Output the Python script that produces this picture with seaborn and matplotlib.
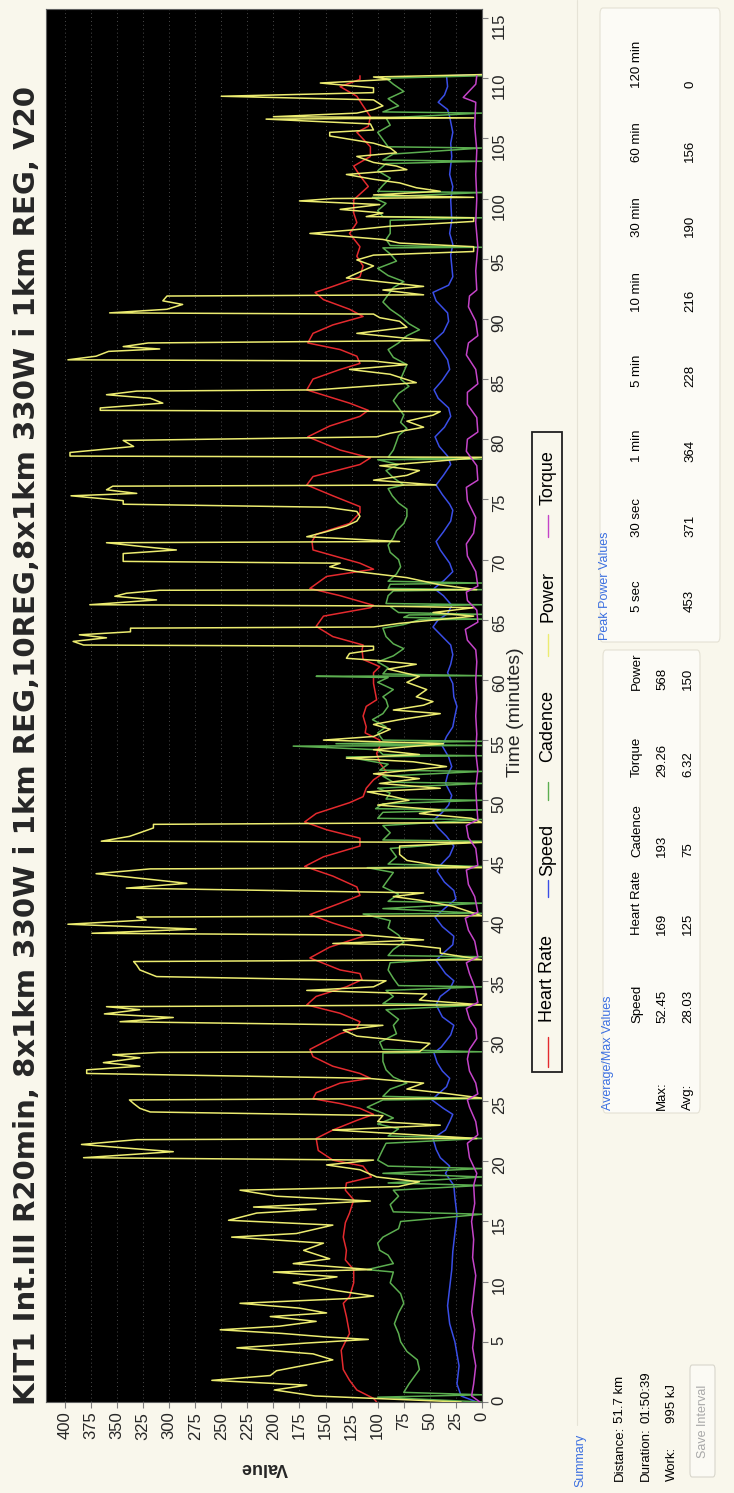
import pandas as pd
import matplotlib
matplotlib.use('Agg')
import matplotlib.pyplot as plt
from matplotlib.patches import Rectangle, FancyBboxPatch
from matplotlib.lines import Line2D
import seaborn as sns

W, H = 734, 1493

# (minutes, value)
power = [(0.0, 20), (0.3, 104), (0.5, 160), (1.0, 199), (1.4, 168), (1.8, 259), (2.2, 203), (2.6, 197),
         (3.5, 143), (4.0, 162), (4.5, 235), (4.9, 168), (5.2, 109), (5.4, 149), (5.7, 192), (6.0, 251),
         (6.3, 194), (6.7, 159), (7.1, 203), (7.4, 149), (7.8, 175), (8.2, 232), (8.6, 127), (8.8, 104),
         (9.3, 143), (9.9, 181), (10.4, 139), (10.8, 200), (11.0, 106), (11.5, 181), (11.9, 146), (12.6, 171),
         (13.2, 152), (13.7, 240), (14.0, 178), (14.7, 143), (15.1, 243), (15.7, 216), (16.0, 159), (16.2, 219),
         (16.7, 107), (17.1, 197), (17.6, 232), (17.9, 80), (18.3, 60), (18.7, 101), (19.3, 117), (19.7, 149),
         (20.1, 104), (20.3, 382), (20.8, 296), (21.1, 341), (21.4, 384), (21.8, 331), (21.9, 5), (22.6, 143),
         (23.0, 40), (23.3, 100), (23.8, 95), (24.1, 318), (24.4, 328), (24.8, 334), (25.1, 338), (25.25, 0),
         (25.7, 40), (26.0, 72), (26.5, 56), (26.9, 110), (27.3, 379), (27.6, 379), (27.9, 328), (28.2, 363),
         (28.6, 328), (28.85, 354), (29.05, 310), (29.1, 60), (29.8, 50), (30.4, 120), (30.9, 133), (31.3, 95),
         (31.6, 347), (31.95, 296), (32.25, 362), (32.6, 328), (32.85, 360), (33.0, 0), (33.4, 60), (33.9, 53),
         (34.2, 168), (34.5, 104), (35.0, 92), (35.35, 312), (35.9, 328), (36.3, 331), (36.6, 334), (36.75, 0),
         (37.3, 40), (37.7, 40), (38.0, 72), (38.1, 143), (38.4, 56), (38.8, 111), (38.95, 374), (39.3, 274),
         (39.7, 397), (40.05, 322), (40.3, 331), (40.4, 0), (41.2, 28), (41.7, 60), (42.0, 85), (42.3, 56),
         (42.7, 341), (43.1, 283), (43.4, 315), (43.9, 370), (44.3, 318), (44.4, 0), (44.6, 44), (45.0, 72),
         (45.5, 79), (46.2, 79), (46.5, 0), (46.6, 365), (47.0, 338), (47.3, 328), (47.7, 315), (48.0, 315),
         (48.15, 0), (48.5, 10), (48.9, 60), (49.2, 40), (49.6, 100), (50.0, 70), (50.3, 85), (50.7, 110),
         (51.0, 40), (51.4, 98), (51.8, 60), (52.2, 104), (52.8, 34), (53.2, 66), (53.5, 130), (53.8, 60),
         (54.2, 104), (54.7, 37), (55.0, 152), (55.3, 104), (55.9, 88), (56.3, 104), (56.7, 79), (57.2, 40),
         (57.5, 85), (57.9, 56), (58.2, 47), (58.6, 63), (59.2, 53), (59.8, 72), (60.3, 60), (60.9, 90),
         (61.3, 63), (61.6, 98), (61.8, 130), (62.2, 127), (62.5, 104), (62.8, 104), (62.9, 382), (63.2, 392),
         (63.5, 360), (63.75, 386), (64.0, 337), (64.3, 337), (64.4, 104), (64.7, 79), (65.3, 8), (65.6, 47),
         (66.0, 8), (66.15, 104), (66.25, 376), (66.65, 312), (66.95, 352), (67.2, 341), (67.45, 309), (67.5, 5),
         (67.9, 40), (68.5, 72), (69.0, 120), (69.4, 146), (69.7, 136), (69.85, 344), (70.2, 344), (70.5, 344),
         (70.8, 293), (71.1, 328), (71.4, 360), (71.5, 79), (71.9, 168), (72.3, 150), (72.8, 130), (73.2, 120),
         (73.6, 117), (74.0, 120), (74.35, 149), (74.6, 344), (74.9, 344), (75.3, 394), (75.5, 331), (75.8, 360),
         (76.1, 354), (76.2, 44), (76.6, 104), (77.0, 72), (77.4, 60), (77.8, 98), (78.2, 40), (78.5, 0),
         (78.6, 395), (78.9, 395), (79.4, 334), (79.9, 344), (80.2, 101), (80.5, 88), (81.0, 56), (81.5, 72),
         (82.0, 47), (82.3, 40), (82.4, 366), (82.6, 366), (83.0, 306), (83.4, 318), (83.7, 360), (84.0, 331),
         (84.1, 159), (84.7, 63), (85.4, 88), (85.8, 127), (86.2, 72), (86.5, 104), (86.6, 397), (86.9, 370),
         (87.3, 358), (87.5, 309), (87.7, 344), (88.0, 320), (88.2, 50), (88.8, 120), (89.3, 72), (89.8, 79),
         (90.1, 98), (90.4, 104), (90.5, 357), (90.8, 302), (91.2, 287), (91.5, 306), (91.9, 302), (92.0, 56),
         (92.4, 95), (92.7, 56), (93.4, 130), (94.4, 104), (94.9, 120), (95.3, 104), (95.6, 8), (96.0, 8),
         (96.3, 79), (96.6, 95), (97.1, 165), (97.4, 123), (97.7, 88), (98.1, 8), (98.4, 8), (98.5, 111),
         (98.8, 95), (99.1, 136), (99.5, 98), (99.8, 175), (100.0, 143), (100.1, 8), (100.3, 104), (100.6, 40),
         (100.9, 63), (101.3, 79), (101.6, 104), (102.0, 130), (102.4, 72), (102.7, 82), (103.0, 104), (103.5, 120),
         (103.8, 82), (104.2, 88), (104.6, 104), (105.2, 146), (105.5, 146), (105.7, 104), (106.2, 107), (106.6, 207),
         (106.7, 8), (106.8, 200), (107.1, 120), (107.4, 104), (107.7, 95), (108.2, 104), (108.5, 250), (108.8, 104),
         (109.2, 104), (109.6, 155), (109.9, 88), (110.1, 104), (110.3, 0)]

heart_rate = [(0.0, 101), (0.3, 104), (1.0, 120), (1.8, 127), (2.7, 133), (4.3, 135), (5.7, 127), (7.1, 130),
              (8.2, 133), (8.75, 127), (9.9, 123), (11.0, 123), (11.8, 131), (12.6, 130), (13.7, 133), (14.9, 131),
              (15.7, 127), (16.8, 123), (17.6, 131), (18.2, 130), (18.7, 106), (19.6, 114), (20.1, 143), (20.9, 157),
              (21.9, 159), (22.6, 143), (23.4, 120), (23.9, 104), (24.4, 117), (24.8, 136), (25.2, 162), (25.7, 159),
              (26.5, 136), (26.9, 107), (27.3, 117), (27.9, 143), (28.7, 162), (29.3, 165), (30.6, 136), (31.05, 120),
              (31.6, 117), (32.3, 136), (33.0, 168), (33.7, 159), (34.5, 130), (35.1, 115), (35.6, 117), (35.9, 136),
              (36.9, 165), (37.8, 146), (38.7, 114), (39.1, 117), (39.8, 143), (40.5, 165), (41.45, 136), (42.1, 117),
              (42.8, 120), (43.7, 143), (44.5, 170), (45.3, 152), (46.2, 117), (46.85, 117), (47.55, 149), (48.2, 170),
              (48.9, 159), (49.8, 127), (50.3, 114), (51.0, 111), (51.7, 104), (52.4, 92), (53.1, 98), (53.9, 101),
              (54.5, 98), (55.0, 98), (55.6, 112), (56.1, 111), (57.0, 114), (57.8, 111), (58.35, 101), (59.7, 104),
              (60.6, 104), (61.1, 98), (61.7, 114), (62.5, 115), (62.9, 114), (63.6, 143), (64.45, 159), (65.3, 152),
              (66.0, 107), (66.2, 104), (67.0, 136), (67.6, 165), (68.6, 149), (69.2, 104), (69.7, 117), (70.8, 162),
              (71.5, 163), (72.1, 159), (73.0, 127), (73.9, 117), (74.4, 117), (75.3, 143), (76.2, 168), (76.9, 162),
              (77.9, 117), (78.45, 107), (79.1, 136), (80.2, 167), (81.1, 146), (81.9, 117), (82.4, 109), (83.0, 127),
              (84.1, 168), (85.0, 162), (85.8, 136), (86.3, 117), (86.9, 120), (87.45, 136), (88.0, 167), (88.8, 162),
              (89.5, 143), (90.2, 114), (90.8, 127), (91.6, 152), (92.2, 160), (92.7, 143), (93.5, 117), (94.4, 114),
              (95.2, 120), (96.0, 117), (97.1, 127), (98.0, 120), (98.8, 123), (99.9, 123), (101.0, 109), (101.9, 117),
              (102.7, 123), (103.5, 107), (104.3, 107), (105.5, 120), (106.0, 109), (106.8, 107), (107.7, 114),
              (108.5, 120), (109.3, 136), (109.9, 117), (110.2, 117)]

speed = [(0.0, 5), (0.5, 20), (1.5, 24), (3.0, 22), (5.0, 26), (6.5, 31), (8.0, 33), (9.5, 31), (11.0, 29),
         (12.5, 28), (14.0, 26), (15.5, 24), (17.0, 26), (18.0, 27), (19.0, 35), (19.6, 31), (20.3, 40), (21.0, 44),
         (21.9, 47), (22.6, 35), (23.3, 31), (23.9, 28), (24.4, 37), (25.1, 48), (25.6, 42), (26.2, 34), (26.9, 31),
         (27.5, 38), (28.2, 43), (29.0, 46), (29.5, 39), (30.5, 30), (31.3, 27), (32.0, 38), (33.0, 44), (33.7, 40),
         (34.3, 31), (35.0, 27), (35.6, 35), (36.7, 44), (37.3, 37), (38.0, 28), (38.7, 27), (39.5, 38), (40.3, 45),
         (41.0, 36), (41.8, 25), (42.5, 27), (43.2, 36), (44.1, 43), (44.6, 40), (45.4, 31), (46.2, 27), (47.0, 34),
         (47.7, 42), (48.3, 47), (49.0, 38), (49.6, 32), (50.4, 29), (51.4, 35), (52.1, 33), (52.8, 29), (53.6, 32),
         (54.5, 38), (55.3, 34), (56.1, 28), (57.0, 26), (57.8, 24), (58.6, 27), (59.7, 28), (60.6, 33), (61.3, 30),
         (62.1, 28), (62.9, 30), (63.6, 38), (64.4, 47), (65.0, 42), (65.5, 33), (66.2, 29), (67.0, 37), (67.6, 46),
         (68.3, 36), (69.0, 28), (69.7, 31), (70.8, 40), (71.5, 44), (72.3, 37), (73.2, 30), (74.1, 28), (74.6, 31),
         (75.4, 38), (76.2, 44), (77.0, 37), (77.9, 30), (78.6, 33), (79.4, 41), (80.2, 45), (81.0, 36), (81.9, 30),
         (82.6, 32), (83.4, 42), (84.1, 46), (84.9, 38), (85.8, 31), (86.6, 33), (87.5, 40), (88.2, 46), (88.9, 37),
         (89.8, 32), (90.5, 33), (91.5, 44), (92.2, 47), (92.8, 32), (93.5, 28), (94.4, 29), (95.3, 30), (96.2, 28),
         (97.1, 31), (98.2, 29), (99.9, 30), (101.0, 28), (102.0, 31), (103.5, 29), (104.6, 30), (105.5, 28),
         (106.8, 31), (107.4, 33), (108.0, 42), (108.6, 36), (109.3, 33), (110.2, 34), (110.3, 0)]

cadence = [(0.0, 0), (0.4, 100), (0.6, 0), (0.8, 75), (1.5, 70), (2.7, 60), (3.5, 62), (4.2, 72), (5.0, 78),
           (5.7, 80), (6.5, 84), (7.4, 80), (8.2, 75), (9.0, 78), (9.9, 88), (10.8, 85), (11.0, 110), (11.5, 85),
           (12.2, 90), (12.6, 98), (13.2, 100), (13.7, 95), (14.4, 80), (15.0, 78), (15.6, 0), (15.8, 85),
           (16.4, 88), (17.1, 80), (17.6, 85), (18.0, 0), (18.2, 90), (18.7, 0), (19.0, 95), (19.4, 0), (19.6, 90),
           (20.1, 100), (21.0, 95), (21.5, 92), (21.9, 0), (22.1, 90), (22.7, 80), (23.1, 100), (23.6, 85),
           (24.0, 95), (24.5, 110), (25.1, 95), (25.2, 0), (25.4, 95), (26.0, 88), (26.5, 72), (27.0, 85),
           (27.6, 92), (28.3, 95), (29.0, 95), (29.1, 0), (29.3, 95), (29.9, 98), (30.6, 82), (31.3, 85),
           (31.8, 80), (32.6, 92), (33.0, 0), (33.1, 95), (33.7, 85), (34.2, 92), (34.5, 0), (34.6, 80),
           (35.2, 85), (35.9, 90), (36.5, 88), (37.0, 0), (37.1, 90), (37.6, 85), (38.2, 75), (38.8, 80),
           (39.4, 90), (40.0, 88), (40.55, 114), (40.6, 0), (41.0, 95), (41.45, 0), (41.6, 90), (42.2, 80),
           (42.8, 95), (43.4, 90), (44.0, 85), (44.4, 110), (44.5, 0), (44.7, 90), (45.3, 82), (46.0, 88),
           (46.6, 0), (46.7, 95), (47.3, 88), (47.9, 95), (48.4, 0), (48.5, 100), (49.0, 95), (49.2, 0),
           (49.3, 102), (49.7, 95), (50.0, 0), (50.1, 92), (50.6, 88), (51.0, 100), (51.4, 0), (51.5, 85),
           (52.0, 95), (52.4, 0), (52.5, 98), (53.0, 90), (53.6, 130), (53.7, 0), (53.8, 95), (54.2, 100),
           (54.5, 181), (54.55, 0), (54.7, 140), (54.9, 0), (55.0, 95), (55.6, 100), (56.1, 92), (56.7, 105),
           (57.2, 95), (57.8, 90), (58.35, 92), (58.6, 95), (59.2, 85), (59.8, 100), (60.2, 90), (60.3, 159),
           (60.35, 0), (60.5, 95), (61.0, 90), (61.5, 100), (62.0, 85), (62.6, 75), (63.0, 85), (63.6, 92),
           (64.3, 95), (64.6, 75), (65.0, 60), (65.05, 0), (65.2, 75), (65.4, 70), (65.45, 0), (65.6, 80),
           (66.1, 88), (66.25, 0), (66.35, 92), (67.0, 90), (67.4, 85), (67.5, 0), (67.6, 90), (67.95, 88),
           (68.05, 0), (68.2, 90), (68.8, 82), (69.4, 78), (70.0, 80), (70.6, 88), (71.2, 90), (71.8, 85),
           (72.4, 82), (73.0, 75), (73.6, 72), (74.2, 72), (74.7, 80), (75.3, 86), (75.9, 90), (76.2, 75),
           (76.8, 85), (77.4, 92), (77.9, 80), (78.3, 100), (78.35, 0), (78.5, 90), (79.1, 85), (79.8, 82),
           (80.3, 80), (80.9, 72), (81.4, 78), (82.0, 75), (82.6, 80), (83.2, 85), (83.8, 80), (84.4, 70),
           (85.0, 78), (85.6, 75), (86.2, 72), (86.8, 85), (87.45, 90), (88.0, 80), (88.6, 72), (89.1, 60),
           (89.6, 70), (90.2, 78), (90.8, 88), (91.4, 95), (92.0, 90), (92.6, 85), (93.1, 75), (93.6, 90),
           (94.2, 100), (94.8, 82), (95.4, 88), (95.9, 95), (95.95, 0), (96.1, 88), (96.6, 92), (97.1, 88),
           (97.6, 88), (98.2, 88), (98.4, 0), (98.5, 95), (99.0, 100), (99.6, 92), (100.1, 105), (100.5, 0),
           (100.6, 100), (101.1, 95), (101.7, 88), (102.3, 100), (102.9, 92), (103.1, 0), (103.2, 95),
           (103.7, 85), (104.2, 0), (104.3, 90), (104.9, 95), (105.5, 100), (106.1, 88), (106.7, 92), (107.1, 0),
           (107.2, 95), (107.7, 80), (108.3, 90), (108.9, 75), (109.5, 85), (110.0, 92), (110.2, 0)]

torque = [(0.0, 2), (0.5, 10), (1.5, 8), (3.0, 6), (4.5, 9), (6.0, 7), (7.5, 10), (9.0, 8), (10.5, 6), (12.0, 9),
          (13.5, 8), (15.0, 10), (16.5, 7), (18.0, 8), (19.0, 5), (20.3, 12), (21.5, 14), (22.2, 4), (23.3, 6),
          (24.5, 12), (25.1, 14), (25.6, 4), (26.5, 6), (27.5, 12), (28.5, 14), (29.3, 12), (30.2, 5), (31.0, 6),
          (31.8, 12), (32.7, 15), (33.2, 4), (34.5, 7), (35.6, 12), (36.5, 15), (37.0, 4), (38.3, 7), (39.2, 13),
          (40.2, 16), (40.7, 4), (42.0, 7), (43.0, 13), (44.2, 15), (44.6, 4), (46.0, 6), (46.9, 13), (47.9, 15),
          (48.4, 4), (49.5, 5), (51.0, 6), (52.5, 4), (54.0, 6), (55.5, 5), (57.0, 6), (58.5, 5), (60.0, 6),
          (61.5, 5), (62.5, 6), (63.3, 14), (64.2, 16), (64.8, 4), (65.8, 5), (66.6, 14), (67.3, 15), (67.8, 4),
          (69.0, 6), (70.3, 14), (71.3, 15), (72.2, 8), (73.5, 6), (74.9, 14), (76.0, 15), (76.6, 4), (77.8, 5),
          (79.0, 15), (80.0, 14), (80.6, 4), (81.8, 5), (82.9, 14), (83.9, 14), (84.6, 4), (85.8, 6), (87.0, 15),
          (88.0, 13), (88.6, 4), (89.8, 6), (91.0, 13), (91.9, 12), (92.4, 5), (94.0, 6), (96.0, 4), (98.0, 6),
          (100.0, 5), (102.0, 6), (104.0, 5), (106.0, 7), (108.0, 6), (108.4, 18), (109.5, 6), (110.2, 5)]

series_names = ['Heart Rate', 'Speed', 'Cadence', 'Power', 'Torque']
series_data = [heart_rate, speed, cadence, power, torque]
series_colors = ['#e42a2e', '#3a4ee6', '#5cae50', '#ecec70', '#c444c8']

value_ticks = list(range(0, 401, 25))
time_ticks = list(range(0, 116, 5))

title = 'KIT1 Int.III R20min, 8x1km 330W i 1km REG,10REG,8x1km 330W i 1km REG, V20'

avg_cols = ['Speed', 'Heart Rate', 'Cadence', 'Torque', 'Power']
avg_max = ['52.45', '169', '193', '29.26', '568']
avg_avg = ['28.03', '125', '75', '6.32', '150']
peak_cols = ['5 sec', '30 sec', '1 min', '5 min', '10 min', '30 min', '60 min', '120 min']
peak_vals = ['453', '371', '364', '228', '216', '190', '156', '0']
summary_labels = ['Distance:', 'Duration:', 'Work:']
summary_vals = ['51.7 km', '01:50:39', '995 kJ']

sns.set_style('ticks')
plt.rcParams['font.family'] = ['Liberation Sans', 'DejaVu Sans']

BG = '#f9f7ec'
fig = plt.figure(figsize=(W / 100, H / 100), dpi=100, facecolor=BG)


def fx(px):
    return px / W


def fy(py):
    return 1 - py / H


def vtext(x, y, s, size=9, color='black', **kw):
    # text reading bottom-to-top, starting at (x, y) pixel
    fig.text(fx(x), fy(y), s, rotation=90, rotation_mode='anchor', ha='left', va='center',
             fontsize=size, color=color, **kw)


ax = fig.add_axes([fx(46), fy(1402), fx(482) - fx(46), fy(9) - fy(1402)])
ax.set_facecolor('black')

for name, pts, col in zip(series_names, series_data, series_colors):
    df = pd.DataFrame(pts, columns=['minutes', 'value'])
    sns.lineplot(data=df, x='value', y='minutes', orient='y', sort=False, estimator=None,
                 color=col, lw=1.1, ax=ax)

ax.set_xlim(418, 0)
ax.set_ylim(0, 115.75)
ax.set_xticks(value_ticks)
ax.set_yticks(time_ticks)
ax.yaxis.tick_right()
ax.grid(axis='x', color='#4a4a4a', ls=(0, (1, 3)), lw=0.7)
ax.grid(axis='y', visible=False)
for sp in ax.spines.values():
    sp.set_color('#606060')
ax.tick_params(axis='x', labelrotation=90, labelsize=12, length=4, width=0.8,
               color='#808080', pad=3)
ax.tick_params(axis='y', labelrotation=90, labelsize=12, length=4, width=0.8,
               color='#808080', pad=3)

ax.set_xlabel('Value', rotation=180, fontsize=13, fontweight='bold')
ax.xaxis.set_label_coords(0.5, -0.041)
ax.set_ylabel('Time (minutes)', fontsize=14)
ax.yaxis.set_label_position('right')
ax.yaxis.label.set_va('center')
ax.yaxis.set_label_coords(1.076, 0.495)

# title
fig.text(fx(27), fy(1405), title, rotation=90, rotation_mode='anchor', ha='left', va='center',
         fontsize=21, fontweight='bold', family=['DejaVu Sans'])

# legend box
fig.add_artist(Rectangle((fx(532), fy(1072)), fx(562) - fx(532), fy(432) - fy(1072),
                         transform=fig.transFigure, fill=False, ec='#202020', lw=1.3))
seg_y = [(1067, 1037), (897, 880), (800, 782), (656, 634), (537, 515)]
txt_y = [1022, 876, 762, 622, 505]
for name, col, (y0, y1), ty in zip(series_names, series_colors, seg_y, txt_y):
    fig.add_artist(Line2D([fx(548), fx(548)], [fy(y0), fy(y1)], transform=fig.transFigure,
                          color=col, lw=1.0))
    vtext(548, ty, name, size=13)

# faint panel separators and boxes
fig.add_artist(Line2D([fx(577), fx(577)], [fy(0), fy(1425)], transform=fig.transFigure,
                      color='#e6e3d6', lw=0.8))
for (x0, y0, x1, y1) in [(603, 650, 700, 1113), (600, 8, 720, 642)]:
    fig.add_artist(FancyBboxPatch((fx(x0), fy(y1)), fx(x1) - fx(x0), fy(y0) - fy(y1),
                                  boxstyle='round,pad=0,rounding_size=0.004',
                                  transform=fig.transFigure, fc='#fcfbf6', ec='#e4e1d4', lw=0.8))

narrow = ['Liberation Sans Narrow', 'Liberation Sans', 'DejaVu Sans']
blue = '#3b6fe0'

# summary
vtext(580, 1487, 'Summary', size=9, color=blue, family=narrow)
for i, (lab, val) in enumerate(zip(summary_labels, summary_vals)):
    x = 620 + i * 26
    vtext(x, 1481, lab, size=9.5, family=narrow)
    vtext(x, 1423, val, size=9.5, family=narrow)
fig.add_artist(FancyBboxPatch((fx(690), fy(1477)), fx(715) - fx(690), fy(1365) - fy(1477),
                              boxstyle='round,pad=0,rounding_size=0.003', transform=fig.transFigure,
                              fc='#fbfaf4', ec='#d8d6cc', lw=0.8))
fig.text(fx(703), fy(1421), 'Save Interval', rotation=90, ha='center', va='center',
         fontsize=9, color='#a8a8a8', family=narrow)

# average / max table
vtext(608, 1110, 'Average/Max Values', size=9, color=blue, family=narrow)
col_start = [1023, 935, 857, 777, 690]
vtext(662, 1110, 'Max:', size=9.5, family=narrow)
vtext(688, 1110, 'Avg:', size=9.5, family=narrow)
for c, mx, av, ys in zip(avg_cols, avg_max, avg_avg, col_start):
    vtext(637, ys, c, size=9.5, family=narrow)
    vtext(662, ys, mx, size=9.5, family=narrow)
    vtext(688, ys, av, size=9.5, family=narrow)

# peak power table
vtext(605, 640, 'Peak Power Values', size=9, color=blue, family=narrow)
peak_start = [612, 537, 462, 387, 312, 237, 162, 88]
for c, v, ys in zip(peak_cols, peak_vals, peak_start):
    vtext(637, ys, c, size=9.5, family=narrow)
    vtext(690, ys, v, size=9.5, family=narrow)

fig.savefig('out.png', dpi=100, facecolor=BG)
